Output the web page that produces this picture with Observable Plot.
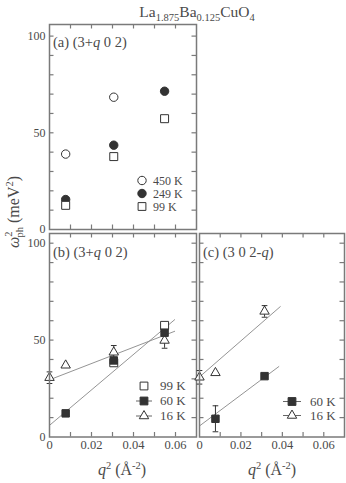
<!DOCTYPE html>
<html><head><meta charset="utf-8">
<script src="https://cdn.jsdelivr.net/npm/d3@7"></script>
<script src="https://cdn.jsdelivr.net/npm/@observablehq/plot@0.6"></script>
<style>
body{margin:0;background:#fff}
#c{position:relative;width:346px;height:483px;font-family:"Liberation Serif","Times New Roman","DejaVu Serif",serif;}
#c svg{position:absolute;left:0;top:0;}
</style></head><body><div id="c"></div>
<script>
// ---------- data ----------
const qA = [0.0077, 0.0306, 0.0548];
const a450K = [39.0, 68.4, null];
const a249K = [15.5, 43.6, 71.5];
const a99K  = [12.5, 37.7, 57.3];

const qB = [0, 0.0077, 0.0306, 0.0548];
const b99K  = [null, null, 38.3, 57.6];
const b60K  = [null, 12.2, 39.5, 53.8];
const b16K  = [30.6, 37.0, 43.7, 49.8];
const b16Kerr = [3, 0, 3.5, 4];

const qC = [0, 0.0077, 0.0314];
const c60K  = [null, 9.4, 31.4];
const c60Kerr = [0, 6.7, 0];
const c16K  = [30.8, 33.1, 64.8];
const c16Kerr = [3.5, 0, 3];

const fitPanel = ["b", "b", "c", "c"];
const fitIntercept = [6, 29.5, 5.7, 31];
const fitSlope = [915, 420, 800, 930];
const fitXmax = [0.0596, 0.0596, 0.0383, 0.039];

const xTickLabels = [0, 0.02, 0.04, 0.06];
const yTickLabels = [0, 50, 100];
const xMinorTicks = [0.01, 0.02, 0.03, 0.04, 0.05, 0.06];
const yMinorTicks = [10, 20, 30, 40, 50, 60, 70, 80, 90, 100];

// ---------- helpers ----------
const W = 346, H = 483;
const FONT = '"Liberation Serif", "Times New Roman", "DejaVu Serif", serif';
const INK = "#333", AX = "#7a7a7a", TXT = "#4a4a4a";
const rows = (q, v, e) => q.map((x, i) => ({x, y: v[i], e: e ? e[i] : 0})).filter(d => d.y != null);
const cap = {draw(ctx, size) { const w = Math.sqrt(size); ctx.moveTo(-w, 0); ctx.lineTo(w, 0); }};
function fitLine(i) {
  return [{x: 0, y: fitIntercept[i]}, {x: fitXmax[i], y: fitIntercept[i] + fitSlope[i] * fitXmax[i]}];
}
function errMarks(data) {
  const d = data.filter(r => r.e > 0);
  return [
    Plot.ruleX(d, {x: "x", y1: r => r.y - r.e, y2: r => r.y + r.e, stroke: INK, strokeWidth: 1}),
    Plot.dot(d, {x: "x", y: r => r.y + r.e, symbol: cap, r: 1.6, stroke: INK, strokeWidth: 1}),
    Plot.dot(d, {x: "x", y: r => r.y - r.e, symbol: cap, r: 1.6, stroke: INK, strokeWidth: 1})
  ];
}
function panel({ml, mr, mt, mb, ydom, xlab, ylab, marks}) {
  const fw = W - ml - mr, fh = H - mt - mb;
  return Plot.plot({
    width: W, height: H, marginLeft: ml, marginRight: mr, marginTop: mt, marginBottom: mb,
    x: {domain: [0, 0.07], axis: null}, y: {domain: ydom, axis: null},
    style: {background: "transparent", fontFamily: FONT, fontSize: "12px", color: TXT},
    marks: [
      Plot.ruleX(xMinorTicks, {x: d => d, insetTop: fh - 4.5, stroke: AX, strokeWidth: 1.2}),
      Plot.ruleX(xMinorTicks, {x: d => d, insetBottom: fh - 4.5, stroke: AX, strokeWidth: 1.2}),
      Plot.ruleY(yMinorTicks, {y: d => d, insetRight: fw - 4.5, stroke: AX, strokeWidth: 1.2}),
      Plot.ruleY(yMinorTicks, {y: d => d, insetLeft: fw - 4.5, stroke: AX, strokeWidth: 1.2}),
      xlab ? Plot.axisX({ticks: xTickLabels, tickSize: 0, tickPadding: 3, label: null, fill: TXT, fontSize: 12.5,
        tickFormat: d => d === 0 ? "0" : d.toFixed(2)}) : null,
      ylab ? Plot.axisY({ticks: yTickLabels, tickSize: 0, tickPadding: 4, label: null, fill: TXT, fontSize: 12}) : null,
      ...marks,
      Plot.frame({stroke: AX, strokeWidth: 1.5})
    ]
  });
}

// ---------- panels ----------
const root = document.getElementById("c");

const A450 = rows(qA, a450K), A249 = rows(qA, a249K), A99 = rows(qA, a99K);
root.appendChild(panel({ml: 49, mr: 150, mt: 24, mb: 254, ydom: [0, 106], xlab: false, ylab: true, marks: [
  Plot.dot(A450, {x: "x", y: "y", symbol: "circle", r: 4.2, stroke: INK, fill: "white", strokeWidth: 1}),
  Plot.dot(A249, {x: "x", y: "y", symbol: "circle", r: 4.2, stroke: INK, fill: INK, strokeWidth: 1}),
  Plot.dot(A99, {x: "x", y: "y", symbol: "square", r: 4.5, stroke: INK, fill: "white", strokeWidth: 1})
]}));

const B99 = rows(qB, b99K), B60 = rows(qB, b60K), B16 = rows(qB, b16K, b16Kerr);
const fitsB = fitPanel.map((p, i) => p === "b" ? fitLine(i) : null).filter(Boolean);
root.appendChild(panel({ml: 49, mr: 150, mt: 233, mb: 46.5, ydom: [0, 105], xlab: true, ylab: true, marks: [
  ...fitsB.map(f => Plot.line(f, {x: "x", y: "y", stroke: "#888", strokeWidth: 0.9})),
  ...errMarks(B16),
  Plot.dot(B16, {x: "x", y: "y", symbol: "triangle", r: 3.5, stroke: INK, fill: "white", strokeWidth: 1}),
  Plot.dot(B99, {x: "x", y: "y", symbol: "square", r: 4.5, stroke: INK, fill: "white", strokeWidth: 1}),
  Plot.dot(B60, {x: "x", y: "y", symbol: "square", r: 4.2, stroke: INK, fill: INK, strokeWidth: 1})
]}));

const C60 = rows(qC, c60K, c60Kerr), C16 = rows(qC, c16K, c16Kerr);
const fitsC = fitPanel.map((p, i) => p === "c" ? fitLine(i) : null).filter(Boolean);
root.appendChild(panel({ml: 199, mr: 2, mt: 233, mb: 46.5, ydom: [0, 105], xlab: true, ylab: false, marks: [
  ...fitsC.map(f => Plot.line(f, {x: "x", y: "y", stroke: "#888", strokeWidth: 0.9})),
  ...errMarks(C60), ...errMarks(C16),
  Plot.dot(C16, {x: "x", y: "y", symbol: "triangle", r: 3.5, stroke: INK, fill: "white", strokeWidth: 1}),
  Plot.dot(C60, {x: "x", y: "y", symbol: "square", r: 4.2, stroke: INK, fill: INK, strokeWidth: 1})
]}));

// ---------- overlay: title, labels, legends ----------
const svg = d3.select(root).append("svg").attr("width", W).attr("height", H)
  .attr("font-family", FONT).attr("fill", TXT);

function rich(g, parts) {
  parts.forEach(p => {
    const t = g.append("tspan").text(p.t);
    if (p.dy) t.attr("dy", p.dy);
    if (p.s) t.attr("font-size", p.s);
    if (p.i) t.attr("font-style", "italic");
    if (p.dx) t.attr("dx", p.dx);
  });
}
// title
rich(svg.append("text").attr("x", 197).attr("y", 17).attr("text-anchor", "middle").attr("font-size", 15.5),
  [{t: "La"}, {t: "1.875", s: 10.5, dy: 4}, {t: "Ba", dy: -4}, {t: "0.125", s: 10.5, dy: 4}, {t: "CuO", dy: -4}, {t: "4", s: 10.5, dy: 4}]);
// panel labels
rich(svg.append("text").attr("x", 53).attr("y", 47).attr("font-size", 14.5),
  [{t: "(a) (3+"}, {t: "q", i: 1}, {t: " 0 2)"}]);
rich(svg.append("text").attr("x", 53).attr("y", 257).attr("font-size", 14.5),
  [{t: "(b) (3+"}, {t: "q", i: 1}, {t: " 0 2)"}]);
rich(svg.append("text").attr("x", 203).attr("y", 257).attr("font-size", 14.5),
  [{t: "(c) (3 0 2-"}, {t: "q", i: 1}, {t: ")"}]);
// y label
const yl = svg.append("text").attr("transform", "translate(19,212) rotate(-90)").attr("text-anchor", "middle").attr("font-size", 16);
rich(yl, [{t: "ω", i: 1}, {t: "2", s: 10.5, dy: -7}, {t: "ph", s: 10.5, dy: 11, dx: -6}, {t: " (meV", dy: -4}, {t: "2", s: 10.5, dy: -6}, {t: ")", dy: 6}]);
// x labels
[122, 272].forEach(cx => {
  rich(svg.append("text").attr("x", cx).attr("y", 475).attr("text-anchor", "middle").attr("font-size", 16),
    [{t: "q", i: 1}, {t: "2", s: 10.5, dy: -6}, {t: " (Å", dy: 6}, {t: "-2", s: 10.5, dy: -6}, {t: ")", dy: 6}]);
});
// legends
const legA = [["circle", "white", "450 K"], ["circle", INK, "249 K"], ["square", "white", "99 K"]];
const legB = [["square", "white", "99 K", false], ["square", INK, "60 K", true], ["triangle", "white", "16 K", true]];
const legC = [["square", INK, "60 K", true], ["triangle", "white", "16 K", true]];
const symArea = {circle: Math.PI * 4.2 * 4.2, square: Math.PI * 4.4 * 4.4, triangle: Math.PI * 3.5 * 3.5};
const symType = {circle: d3.symbolCircle, square: d3.symbolSquare, triangle: d3.symbolTriangle};
function legend(entries, mx, tx, y0, dy, lineHalf, fs) {
  entries.forEach((e, i) => {
    const y = y0 + i * dy;
    if (e[3]) svg.append("line").attr("x1", mx - lineHalf).attr("x2", mx + lineHalf).attr("y1", y).attr("y2", y)
      .attr("stroke", "#666").attr("stroke-width", 1);
    svg.append("path").attr("d", d3.symbol(symType[e[0]], symArea[e[0]])())
      .attr("transform", `translate(${mx},${y})`).attr("fill", e[1]).attr("stroke", INK).attr("stroke-width", 1);
    svg.append("text").attr("x", tx).attr("y", y + 4.2).attr("font-size", fs).text(e[2]);
  });
}
legend(legA, 142, 153, 180.5, 13, 0, 12);
legend(legB, 144, 160, 386, 15, 8, 13);
legend(legC, 292, 310, 401.5, 14, 9, 13);
</script></body></html>
